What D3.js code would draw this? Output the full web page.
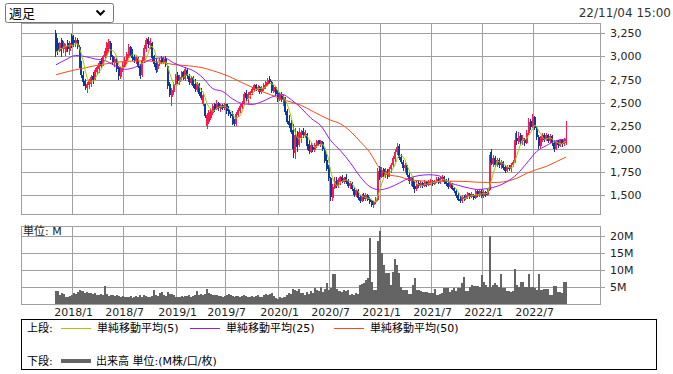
<!DOCTYPE html>
<html>
<head>
<meta charset="utf-8">
<script src="https://cdn.jsdelivr.net/npm/d3@7"></script>
<style>
  html, body { margin: 0; padding: 0; background: #fff; }
  svg { display: block; font-family: "DejaVu Sans", "Noto Sans CJK JP", sans-serif; }
</style>
</head>
<body>
<svg id="chart" width="673" height="374"></svg>
<script>
// weekly candles, first week starts Monday 2017/11/06
const firstWeek = new Date( 2017, 10, 6 );

const open = [
  3250,3150,3060,3180,3080,3050,3150,3060,3220,3180,
  3130,3180,3100,2920,2800,2730,2660,2690,2700,2790,
  2760,2830,2860,2950,2920,2990,3020,3080,3150,3000,
  2930,2960,2880,2780,2850,2900,2950,3000,3100,3050,
  2990,2950,2980,2900,2800,2950,3080,3190,3120,3150,
  3000,2930,2860,2920,2980,2930,2980,2900,2700,2560,
  2620,2700,2800,2720,2770,2830,2760,2850,2790,2710,
  2770,2700,2640,2700,2620,2480,2480,2250,2290,2330,
  2390,2480,2430,2500,2430,2470,2440,2480,2420,2380,
  2380,2300,2270,2370,2410,2450,2490,2600,2540,2580,
  2600,2640,2690,2640,2670,2610,2650,2680,2700,2760,
  2720,2620,2670,2600,2530,2590,2480,2550,2410,2300,
  2280,2200,1950,2150,2040,2120,2190,2140,2160,2050,
  1970,2020,1990,2030,2090,2040,2070,1990,1880,1800,
  1680,1470,1580,1660,1600,1640,1690,1640,1690,1650,
  1600,1630,1570,1500,1550,1480,1430,1500,1460,1500,
  1460,1430,1390,1420,1450,1800,1700,1780,1720,1760,
  1700,1780,1830,1890,1960,2030,1910,1860,1790,1820,
  1720,1650,1680,1600,1560,1630,1600,1630,1600,1640,
  1610,1630,1650,1620,1640,1670,1630,1670,1700,1650,
  1630,1590,1620,1580,1540,1500,1460,1430,1480,1460,
  1490,1510,1480,1500,1470,1540,1500,1530,1490,1530,
  1500,1550,1960,1840,1900,1830,1880,1820,1860,1800,
  1760,1800,1780,1830,1860,2120,2070,2150,2080,2110,
  2060,2170,2300,2240,2340,2230,2130,2030,2100,2150,
  2090,2150,2080,2140,2060,2000,2080,2030,2090,2050,
  2060
];
const high = [
  3290,3200,3160,3200,3170,3130,3180,3170,3240,3230,
  3210,3200,3125,2950,2840,2760,2720,2760,2800,2830,
  2870,2900,2950,2980,3020,3090,3160,3190,3170,3020,
  2990,2980,2900,2880,2940,2990,3050,3130,3110,3080,
  3020,3010,2990,2920,2990,3120,3200,3210,3200,3160,
  3020,2980,2940,2980,3000,2990,3000,2910,2720,2660,
  2720,2810,2830,2800,2840,2840,2890,2870,2810,2790,
  2790,2760,2720,2710,2660,2600,2490,2390,2425,2440,
  2480,2500,2530,2510,2490,2490,2500,2490,2460,2400,
  2405,2320,2400,2440,2480,2520,2620,2640,2610,2630,
  2670,2700,2700,2690,2680,2680,2710,2730,2770,2790,
  2730,2690,2680,2640,2620,2610,2580,2560,2430,2370,
  2315,2265,2230,2190,2230,2200,2230,2200,2170,2100,
  2070,2040,2060,2100,2100,2100,2080,2010,1940,1830,
  1700,1620,1690,1690,1680,1710,1720,1700,1730,1670,
  1650,1640,1590,1570,1560,1500,1510,1520,1520,1510,
  1480,1450,1440,1480,1790,1810,1800,1790,1790,1780,
  1800,1850,1920,2000,2060,2050,1940,1880,1850,1830,
  1740,1700,1690,1650,1650,1660,1650,1640,1660,1650,
  1660,1670,1660,1660,1690,1690,1700,1720,1710,1670,
  1680,1650,1630,1590,1560,1520,1490,1500,1500,1510,
  1530,1520,1530,1510,1560,1550,1560,1560,1550,1540,
  1560,1930,2000,1930,1920,1900,1900,1880,1870,1830,
  1820,1830,1850,1880,2170,2190,2180,2170,2150,2120,
  2200,2330,2320,2375,2350,2250,2150,2140,2170,2170,
  2170,2160,2160,2150,2090,2100,2090,2110,2110,2120,
  2300
];
const low = [
  2990,3020,3050,2995,3040,3000,3050,3020,3090,3100,
  3100,3080,2870,2770,2680,2640,2600,2650,2670,2700,
  2740,2800,2820,2870,2900,2960,2980,3040,2960,2910,
  2890,2830,2750,2760,2830,2880,2920,2980,3000,2950,
  2930,2920,2870,2760,2780,2930,3050,3090,3080,2950,
  2890,2820,2830,2900,2920,2920,2890,2650,2560,2460,
  2580,2690,2700,2690,2740,2740,2730,2760,2690,2690,
  2660,2620,2620,2570,2530,2460,2335,2210,2265,2315,
  2370,2400,2420,2410,2400,2420,2420,2380,2350,2330,
  2260,2245,2250,2340,2390,2430,2470,2520,2490,2540,
  2580,2610,2630,2620,2590,2590,2630,2650,2680,2700,
  2600,2600,2570,2510,2520,2510,2460,2370,2265,2230,
  2155,1905,1890,1960,2020,2060,2120,2120,1990,1940,
  1950,1960,1970,2010,2030,2020,1980,1850,1760,1655,
  1440,1430,1560,1580,1580,1610,1630,1620,1620,1580,
  1570,1540,1480,1480,1450,1410,1420,1440,1440,1430,
  1400,1370,1360,1400,1440,1660,1680,1690,1680,1670,
  1690,1740,1800,1860,1930,1880,1840,1760,1740,1700,
  1620,1600,1570,1520,1540,1580,1580,1580,1590,1590,
  1600,1610,1600,1610,1630,1620,1620,1650,1620,1600,
  1570,1580,1550,1520,1470,1430,1410,1415,1440,1450,
  1460,1460,1470,1450,1460,1480,1480,1470,1470,1480,
  1490,1540,1820,1800,1800,1800,1790,1780,1770,1740,
  1750,1760,1750,1800,1850,2040,2050,2040,2040,2030,
  2050,2150,2200,2220,2200,2100,1995,2010,2070,2070,
  2080,2060,2060,2030,1960,1990,2010,2020,2020,2030,
  2040
];
const close = [
  3050,3060,3150,3080,3150,3110,3080,3150,3120,3140,
  3180,3100,2900,2800,2720,2680,2700,2740,2780,2740,
  2850,2880,2930,2900,3000,3060,3140,3170,2990,2940,
  2970,2860,2790,2860,2910,2960,3030,3100,3030,2980,
  2960,2990,2890,2790,2960,3090,3180,3130,3170,2980,
  2920,2850,2920,2960,2940,2970,2910,2680,2580,2640,
  2700,2790,2730,2780,2820,2770,2860,2790,2720,2770,
  2680,2650,2700,2590,2550,2580,2360,2370,2400,2420,
  2460,2430,2500,2440,2470,2440,2480,2410,2380,2350,
  2290,2270,2380,2420,2460,2500,2590,2550,2590,2610,
  2650,2690,2650,2670,2610,2660,2690,2720,2750,2720,
  2630,2670,2590,2540,2590,2540,2560,2400,2290,2260,
  2180,2000,2150,2020,2180,2180,2150,2180,2030,1980,
  2040,1990,2040,2080,2050,2080,2000,1870,1780,1680,
  1480,1590,1650,1610,1650,1690,1650,1680,1640,1600,
  1630,1560,1500,1550,1470,1430,1490,1460,1500,1450,
  1420,1390,1420,1450,1760,1700,1770,1720,1760,1700,
  1780,1830,1900,1970,2020,1900,1860,1790,1820,1720,
  1650,1680,1590,1560,1620,1600,1630,1600,1640,1610,
  1640,1650,1620,1650,1670,1640,1680,1700,1640,1620,
  1590,1630,1570,1540,1490,1450,1430,1480,1460,1500,
  1520,1480,1510,1470,1540,1500,1540,1490,1530,1500,
  1550,1900,1850,1900,1830,1880,1820,1860,1790,1760,
  1800,1780,1830,1860,2100,2080,2140,2080,2120,2060,
  2170,2290,2240,2340,2230,2130,2030,2110,2140,2090,
  2150,2080,2140,2060,2000,2080,2040,2090,2050,2100,
  2110
];
// volume in millions
const volume = [
  3.8,3.6,2.4,3.0,2.7,2.0,1.8,2.2,2.6,3.0,
  2.9,3.3,4.0,3.7,3.6,3.1,3.4,3.0,3.2,2.7,
  3.0,2.6,2.5,2.8,2.6,5.2,2.9,2.3,2.5,2.4,
  2.2,2.5,2.3,2.0,2.2,1.8,2.0,1.9,2.1,1.7,
  1.9,2.2,1.8,2.4,2.0,2.5,2.2,1.8,2.0,2.3,
  4.0,2.6,2.2,3.0,3.4,2.5,2.2,3.5,2.7,2.9,
  2.4,1.8,2.0,1.9,2.2,2.0,2.3,2.1,2.5,2.0,
  2.2,2.6,3.6,2.4,2.8,2.5,2.9,4.3,3.2,2.7,
  2.6,2.4,2.5,2.1,2.3,2.0,2.2,2.6,2.8,2.4,
  2.1,2.0,2.3,2.1,1.9,2.2,2.5,2.2,1.8,2.0,
  2.3,1.9,2.1,2.4,2.0,1.8,2.6,2.9,2.5,2.7,
  3.0,2.2,1.6,1.4,1.8,1.5,2.0,1.9,2.6,3.0,
  2.8,4.2,4.0,3.6,4.3,3.2,3.0,2.6,3.3,2.9,
  3.8,3.2,4.5,4.1,3.8,5.0,3.5,4.2,6.2,4.0,
  4.5,8.8,8.8,4.2,3.6,3.8,3.5,4.0,3.7,4.0,
  2.6,2.8,2.5,3.0,2.8,5.5,5.8,6.0,7.0,7.5,
  19.5,6.5,4.0,4.0,18.5,21.5,15.0,11.5,9.0,9.0,
  9.0,5.5,9.5,13.2,11.5,9.0,5.0,4.0,4.0,4.0,
  2.8,2.8,5.5,7.5,4.0,4.0,3.8,3.5,3.5,3.5,
  3.0,3.0,3.0,4.2,2.5,2.5,2.8,3.0,4.5,4.5,
  4.5,3.5,4.0,4.5,3.8,4.5,4.5,6.0,7.8,3.7,
  3.7,5.0,5.5,5.2,5.2,5.2,5.0,8.5,6.5,5.5,
  5.0,20.0,5.0,5.5,6.0,5.5,5.0,8.7,4.5,4.5,
  3.7,3.7,3.5,3.8,10.3,5.5,5.0,6.5,6.5,5.0,
  5.0,8.8,5.0,5.0,4.5,4.0,8.8,4.0,4.0,4.2,
  4.2,4.2,2.5,2.5,5.2,5.2,3.5,3.5,3.0,6.5,
  6.5
];

// moving averages, one value every 5 weeks
const maStep = 5;
const ma25 = [
  2909,2965,3010,2998,2972,2955,2900,2860,2880,2935,
  2975,2985,2930,2885,2845,2766,2650,2620,2540,2490,
  2480,2510,2560,2590,2530,2440,2330,2250,2090,1980,
  1850,1700,1590,1557,1580,1630,1683,1710,1719,1710,
  1640,1605,1578,1560,1570,1595,1645,1725,1845,1970,
  2035,2088,2105
];
const ma50 = [
  2802,2830,2855,2876,2900,2918,2935,2945,2950,2952,
  2945,2930,2912,2902,2893,2875,2845,2810,2766,2715,
  2665,2620,2580,2537,2505,2470,2415,2360,2310,2270,
  2190,2080,1960,1790,1715,1700,1665,1655,1648,1647,
  1650,1648,1645,1638,1636,1636,1650,1682,1735,1775,
  1810,1860,1910
];

const priceTicks = [ 1500, 1750, 2000, 2250, 2500, 2750, 3000, 3250 ];
const volumeTicks = [ 5, 10, 15, 20 ];
const monthLabels = [ "2018/1", "2018/7", "2019/1", "2019/7", "2020/1",
  "2020/7", "2021/1", "2021/7", "2022/1", "2022/7" ];

const UP = "#ff1a4b";
const DOWN = "#0b3a9c";
const GRID = "#a0a0a0";
const MA_COLORS = [ "#9acd00", "#9b19f5", "#ff4a12" ];

const n = close.length;
const dates = d3.range( n ).map( i => d3.timeWeek.offset( firstWeek, i ) );

const svg = d3.select( "#chart" );

const MAIN = { left: 21, right: 600, top: 23, bottom: 214 };
const VOL = { left: 21, right: 600, top: 225.5, bottom: 304 };

const x = d3.scaleBand()
  .domain( d3.range( n ) )
  .range( [ 55, 567 ] )
  .padding( 0 );
const xc = i => x( i ) + x.bandwidth() / 2;

const y = d3.scaleLinear().domain( [ 1500, 3250 ] ).range( [ 195, 33.3 ] );
const yv = d3.scaleLinear().domain( [ 0, 20 ] ).range( [ 303.5, 236.3 ] );

const crisp = v => Math.round( v ) + 0.5;

// month gridline positions: first weekly candle of that month
const monthIdx = monthLabels.map( label => {
  const [ yr, mo ] = label.split( "/" ).map( Number );
  return dates.findIndex( d => d.getFullYear() === yr && d.getMonth() === mo - 1 );
} );

// ---- top bar ----
svg.append( "rect" )
  .attr( "x", 5.5 ).attr( "y", 3.5 )
  .attr( "width", 108 ).attr( "height", 19 )
  .attr( "rx", 2 )
  .attr( "fill", "#fff" )
  .attr( "stroke", "#767676" );
svg.append( "text" )
  .attr( "x", 9 ).attr( "y", 18 )
  .attr( "font-size", 13 )
  .attr( "font-family", "Noto Sans CJK JP" )
  .text( "週足" );
svg.append( "path" )
  .attr( "d", "M96.5,10.5 L100.5,14.5 L104.5,10.5" )
  .attr( "fill", "none" )
  .attr( "stroke", "#000" )
  .attr( "stroke-width", 2 );
svg.append( "text" )
  .attr( "x", 671 ).attr( "y", 17 )
  .attr( "text-anchor", "end" )
  .attr( "font-size", 12 )
  .attr( "fill", "#333" )
  .text( "22/11/04 15:00" );

// ---- grids ----
function panelGrid( panel, yTicks, yScale, labelFmt ) {
  const g = svg.append( "g" ).attr( "shape-rendering", "crispEdges" );
  g.selectAll( "line.h" )
    .data( yTicks )
    .join( "line" )
    .attr( "x1", panel.left ).attr( "x2", panel.right + 5 )
    .attr( "y1", d => crisp( yScale( d ) ) ).attr( "y2", d => crisp( yScale( d ) ) )
    .attr( "stroke", GRID );
  g.selectAll( "line.v" )
    .data( monthIdx )
    .join( "line" )
    .attr( "x1", d => crisp( xc( d ) ) ).attr( "x2", d => crisp( xc( d ) ) )
    .attr( "y1", panel.top ).attr( "y2", panel.bottom )
    .attr( "stroke", GRID );
  g.append( "rect" )
    .attr( "x", panel.left + 0.5 ).attr( "y", panel.top + 0.5 )
    .attr( "width", panel.right - panel.left ).attr( "height", panel.bottom - panel.top )
    .attr( "fill", "none" )
    .attr( "stroke", GRID );
  svg.selectAll( null )
    .data( yTicks )
    .join( "text" )
    .attr( "x", 610 )
    .attr( "y", d => yScale( d ) + 4 )
    .attr( "font-size", 11 )
    .attr( "fill", "#222" )
    .text( labelFmt );
}
panelGrid( MAIN, priceTicks, y, d3.format( "," ) );
panelGrid( VOL, volumeTicks, yv, d => `${d}M` );

svg.append( "defs" ).append( "clipPath" ).attr( "id", "mainClip" )
  .append( "rect" )
  .attr( "x", MAIN.left + 1 ).attr( "y", MAIN.top + 1 )
  .attr( "width", MAIN.right - MAIN.left - 1 ).attr( "height", MAIN.bottom - MAIN.top - 1 );

// ---- candles ----
const candles = svg.append( "g" )
  .attr( "clip-path", "url(#mainClip)" )
  .attr( "shape-rendering", "crispEdges" );
const idx = d3.range( n );
candles.selectAll( "rect.wick" )
  .data( idx )
  .join( "rect" )
  .attr( "x", i => Math.floor( xc( i ) ) )
  .attr( "width", 1 )
  .attr( "y", i => y( high[i] ) )
  .attr( "height", i => Math.max( 1, y( low[i] ) - y( high[i] ) ) )
  .attr( "fill", i => close[i] >= open[i] ? UP : DOWN );
candles.selectAll( "rect.body" )
  .data( idx )
  .join( "rect" )
  .attr( "x", i => Math.round( xc( i ) - 1 ) )
  .attr( "width", 2 )
  .attr( "y", i => y( Math.max( open[i], close[i] ) ) )
  .attr( "height", i => Math.max( 1, Math.abs( y( open[i] ) - y( close[i] ) ) ) )
  .attr( "fill", i => close[i] >= open[i] ? UP : DOWN );

// ---- moving averages ----
const ma5 = close.map( ( c, i ) => d3.mean( close.slice( Math.max( 0, i - 4 ), i + 1 ) ) );
const line = d3.line()
  .x( d => xc( d[0] ) )
  .y( d => y( d[1] ) );
const smooth = d3.line()
  .x( d => xc( d[0] ) )
  .y( d => y( d[1] ) )
  .curve( d3.curveMonotoneX );

const lines = svg.append( "g" ).attr( "clip-path", "url(#mainClip)" );
lines.append( "path" )
  .attr( "d", smooth( ma50.map( ( v, k ) => [ Math.min( n - 1, k * maStep ), v ] ) ) )
  .attr( "fill", "none" ).attr( "stroke", MA_COLORS[2] ).attr( "stroke-width", 1 );
lines.append( "path" )
  .attr( "d", smooth( ma25.map( ( v, k ) => [ Math.min( n - 1, k * maStep ), v ] ) ) )
  .attr( "fill", "none" ).attr( "stroke", MA_COLORS[1] ).attr( "stroke-width", 1 );
lines.append( "path" )
  .attr( "d", line( ma5.map( ( v, i ) => [ i, v ] ) ) )
  .attr( "fill", "none" ).attr( "stroke", MA_COLORS[0] ).attr( "stroke-width", 1 );

// ---- volume ----
svg.append( "g" )
  .attr( "shape-rendering", "crispEdges" )
  .selectAll( "rect" )
  .data( idx )
  .join( "rect" )
  .attr( "x", i => Math.round( xc( i ) - 1 ) )
  .attr( "width", 2 )
  .attr( "y", i => yv( volume[i] ) )
  .attr( "height", i => yv( 0 ) - yv( volume[i] ) )
  .attr( "fill", "#646464" );

svg.append( "text" )
  .attr( "x", 23 ).attr( "y", 235 )
  .attr( "font-size", 11 )
  .attr( "fill", "#222" )
  .text( "単位: M" );

// ---- month labels ----
svg.selectAll( "text.month" )
  .data( monthLabels )
  .join( "text" )
  .attr( "x", ( d, k ) => xc( monthIdx[k] ) + 2 )
  .attr( "y", 316 )
  .attr( "text-anchor", "middle" )
  .attr( "font-size", 11 )
  .attr( "fill", "#222" )
  .text( d => d );

// ---- legend ----
const legend = svg.append( "g" );
legend.append( "rect" )
  .attr( "x", 21.5 ).attr( "y", 319.5 )
  .attr( "width", 635 ).attr( "height", 50 )
  .attr( "fill", "none" ).attr( "stroke", "#000" );
legend.append( "text" ).attr( "x", 27 ).attr( "y", 332 ).attr( "font-size", 11 ).text( "上段:" );
legend.append( "text" ).attr( "x", 27 ).attr( "y", 365 ).attr( "font-size", 11 ).text( "下段:" );

const maLegend = [
  { label: "単純移動平均(5)", x: 61 },
  { label: "単純移動平均(25)", x: 190 },
  { label: "単純移動平均(50)", x: 334 },
];
maLegend.forEach( ( m, k ) => {
  legend.append( "line" )
    .attr( "x1", m.x ).attr( "x2", m.x + 30 )
    .attr( "y1", 328.5 ).attr( "y2", 328.5 )
    .attr( "stroke", MA_COLORS[k] );
  legend.append( "text" )
    .attr( "x", m.x + 36 ).attr( "y", 332 )
    .attr( "font-size", 11 )
    .text( m.label );
} );
legend.append( "line" )
  .attr( "x1", 61 ).attr( "x2", 91 )
  .attr( "y1", 361 ).attr( "y2", 361 )
  .attr( "stroke", "#646464" ).attr( "stroke-width", 4 );
legend.append( "text" )
  .attr( "x", 96 ).attr( "y", 365 )
  .attr( "font-size", 11 )
  .text( "出来高 単位:(M株/口/枚)" );
</script>
</body>
</html>
